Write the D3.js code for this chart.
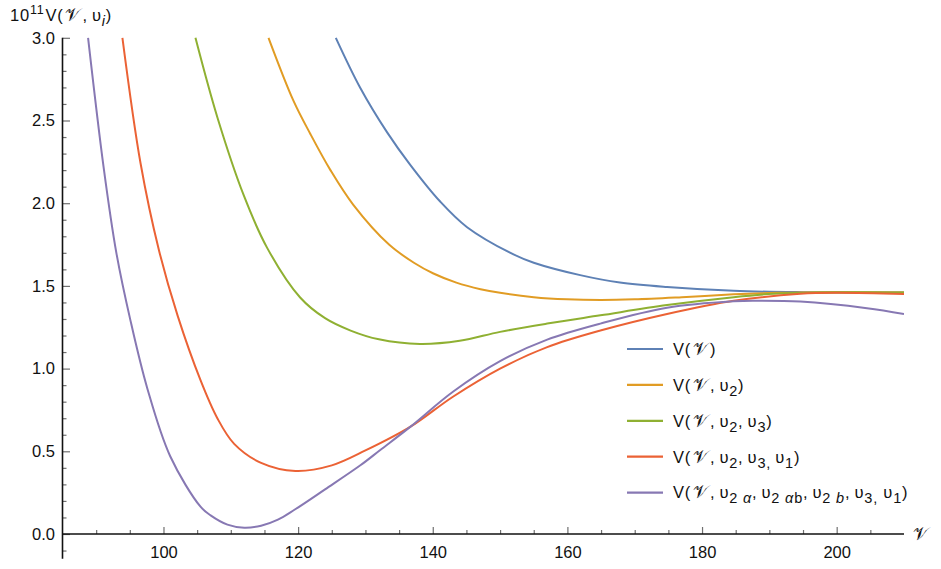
<!DOCTYPE html>
<html>
<head>
<meta charset="utf-8">
<script src="https://cdn.jsdelivr.net/npm/d3@7"></script>
<style>
  body { margin: 0; background: #fff; }
  text { font-family: "Liberation Sans", Arial, sans-serif; fill: #111; }
</style>
</head>
<body>
<div id="chart"></div>
<script>
var width = 941, height = 569;

// curves: [V, 10^11 V]
var vPlain = [[125.6,3.0],[129.2,2.70],[133.2,2.43],[136.6,2.235],[141.1,2.01],[145.1,1.855],[152,1.69],[155,1.64],[161.9,1.565],[167.8,1.52],[174.8,1.493],[184.7,1.47],[195,1.462],[210,1.46]];
var vU2 = [[115.6,3.0],[119.3,2.62],[121.8,2.42],[124.8,2.2],[128.2,1.99],[133.5,1.75],[137.2,1.64],[140.1,1.575],[143.5,1.52],[147.1,1.48],[150,1.458],[155,1.432],[159.9,1.419],[165,1.415],[170,1.419],[177,1.432],[184.7,1.449],[191,1.458],[200,1.462],[210,1.46]];
var vU2U3 = [[104.75,3.0],[108,2.52],[111.9,2.05],[115.4,1.73],[120.3,1.43],[124,1.305],[127.8,1.23],[132,1.177],[138.1,1.149],[144,1.168],[150,1.222],[157,1.272],[164.9,1.322],[174.8,1.384],[184.7,1.432],[190.7,1.452],[200,1.461],[210,1.46]];
var vU2U3U1 = [[93.9,3.0],[96.6,2.24],[99.3,1.72],[102.1,1.32],[105.5,0.93],[108,0.70],[110.5,0.545],[114.5,0.43],[119.6,0.381],[125,0.415],[130,0.505],[136.7,0.649],[143,0.83],[150,1.0],[157,1.13],[164.9,1.23],[174.8,1.33],[184.7,1.41],[194.6,1.452],[200,1.458],[210,1.451]];
var vAll = [[88.8,3.0],[91.1,2.22],[93.0,1.70],[95.1,1.29],[97.6,0.88],[101,0.47],[105.5,0.165],[107,0.113],[109.5,0.057],[112,0.038],[114.5,0.05],[117,0.087],[119.4,0.145],[124,0.27],[129.3,0.417],[132.2,0.508],[136.7,0.649],[143,0.86],[150,1.045],[157,1.175],[164.9,1.272],[174.8,1.368],[184.7,1.407],[188,1.41],[194.6,1.405],[204.5,1.365],[210,1.33]];

var xMajor = [100, 120, 140, 160, 180, 200];
var xMinor = [90, 95, 105, 110, 115, 125, 130, 135, 145, 150, 155, 165, 170, 175, 185, 190, 195, 205];
var yMajor = [0, 0.5, 1.0, 1.5, 2.0, 2.5, 3.0];
var yMinor = [-0.1, 0.1, 0.2, 0.3, 0.4, 0.6, 0.7, 0.8, 0.9, 1.1, 1.2, 1.3, 1.4, 1.6, 1.7, 1.8, 1.9, 2.1, 2.2, 2.3, 2.4, 2.6, 2.7, 2.8, 2.9];

var colors = ["#5E81B5", "#E19C24", "#8FB032", "#EB6235", "#8778B3"];

// legend labels: [text, kind] n = normal, s = subscript, si = italic subscript, v = script V
var C = ",\u2009\u03C5";
var labels = [
  [["V(", "n"], ["\u{1D4B1}", "v"], [")", "n"]],
  [["V(", "n"], ["\u{1D4B1}", "v"], [C, "n"], ["2", "s"], [")", "n"]],
  [["V(", "n"], ["\u{1D4B1}", "v"], [C, "n"], ["2", "s"], [C, "n"], ["3", "s"], [")", "n"]],
  [["V(", "n"], ["\u{1D4B1}", "v"], [C, "n"], ["2", "s"], [C, "n"], ["3,", "s"], ["\u2009\u03C5", "n"], ["1", "s"], [")", "n"]],
  [["V(", "n"], ["\u{1D4B1}", "v"], [C, "n"], ["2 ", "s"], ["\u03B1", "si"], [C, "n"], ["2 ", "s"], ["\u03B1", "si"], ["b", "s"],
   [C, "n"], ["2 ", "s"], ["b", "si"], [C, "n"], ["3,", "s"], [" \u03C5", "n"], ["1", "s"], [")", "n"]]
];
var series = [vPlain, vU2, vU2U3, vU2U3U1, vAll];

var x = d3.scaleLinear().domain([85, 210]).range([62.5, 904]);
var y = d3.scaleLinear().domain([0, 3]).range([534, 37.8]);

var svg = d3.select("#chart").append("svg")
    .attr("width", width)
    .attr("height", height);

svg.append("rect").attr("width", width).attr("height", height).attr("fill", "#fff");

svg.append("defs").append("clipPath").attr("id", "plot")
    .append("rect")
    .attr("x", x(85)).attr("y", y(3) - 1)
    .attr("width", x(210) - x(85)).attr("height", y(-0.15) - y(3) + 1);

// x axis: minor then major ticks, pointing up
var xMinorAxis = d3.axisBottom(x).tickValues(xMinor).tickSizeInner(-4).tickSizeOuter(0).tickFormat("");
var xMajorAxis = d3.axisBottom(x).tickValues(xMajor).tickSizeInner(-7).tickSizeOuter(0).tickPadding(12.3).tickFormat(d3.format("d"));
svg.append("g").attr("transform", "translate(0," + y(0) + ")").call(xMinorAxis);
svg.append("g").attr("transform", "translate(0," + y(0) + ")").call(xMajorAxis);

// y axis: ticks pointing right
var yMinorAxis = d3.axisLeft(y).tickValues(yMinor).tickSizeInner(-4).tickSizeOuter(0).tickFormat("");
var yMajorAxis = d3.axisLeft(y).tickValues(yMajor).tickSizeInner(-7.5).tickSizeOuter(0).tickPadding(7.5).tickFormat(d3.format(".1f"));
svg.append("g").attr("transform", "translate(" + x(85) + ",0)").call(yMinorAxis);
svg.append("g").attr("transform", "translate(" + x(85) + ",0)").call(yMajorAxis);

svg.selectAll(".domain").remove();
svg.selectAll(".tick line").attr("stroke", "#707070").attr("stroke-width", 1.2);
svg.selectAll(".tick text").attr("font-size", 16.5).attr("fill", "#111")
    .attr("font-family", "Liberation Sans, Arial, sans-serif");

svg.append("line")
    .attr("x1", x(85)).attr("x2", x(210))
    .attr("y1", y(0)).attr("y2", y(0))
    .attr("stroke", "#111").attr("stroke-width", 1.6);
svg.append("line")
    .attr("x1", x(85)).attr("x2", x(85))
    .attr("y1", y(3)).attr("y2", y(-0.15))
    .attr("stroke", "#111").attr("stroke-width", 1.6);

var line = d3.line()
    .x(function(d) { return x(d[0]); })
    .y(function(d) { return y(d[1]); })
    .curve(d3.curveCatmullRom.alpha(0.5));

svg.append("g").attr("clip-path", "url(#plot)")
    .selectAll("path")
    .data(series)
    .enter()
    .append("path")
    .attr("d", line)
    .attr("fill", "none")
    .attr("stroke", function(d, i) { return colors[i]; })
    .attr("stroke-width", 2);

function richText(sel, parts, size) {
    var shift = 0, afterV = false;
    parts.forEach(function(p) {
        var isSub = (p[1] == "s" || p[1] == "si");
        var target = isSub ? 5 : 0;
        var t = sel.append("tspan").text(p[0]);
        if (target != shift) t.attr("dy", target - shift);
        shift = target;
        if (afterV) t.attr("dx", 1.5);
        afterV = false;
        if (isSub) {
            t.attr("font-size", size * 0.88);
            if (p[1] == "si") t.attr("font-style", "italic");
        } else if (p[1] == "v") {
            t.attr("font-size", size * 1.1).attr("dx", 1.5);
            afterV = true;
        } else {
            t.attr("font-size", size);
        }
    });
}

// legend
var legend = svg.append("g");
labels.forEach(function(parts, i) {
    var cy = 349 + i * 35.9;
    legend.append("line")
        .attr("x1", 627).attr("x2", 663)
        .attr("y1", cy).attr("y2", cy)
        .attr("stroke", colors[i]).attr("stroke-width", 2.2);
    var t = legend.append("text").attr("x", 673).attr("y", cy + 5.8).attr("font-size", 16.5)
        .attr("letter-spacing", 0.8)
        .attr("xml:space", "preserve").style("white-space", "pre");
    richText(t, parts, 16.5);
});

// axis labels
var yLab = svg.append("text").attr("x", 10).attr("y", 21).attr("font-size", 16.5).attr("letter-spacing", 0.8);
yLab.append("tspan").text("10");
yLab.append("tspan").text("11").attr("font-size", 12.5).attr("dy", -7);
yLab.append("tspan").text("V(").attr("dy", 7).attr("dx", 1);
yLab.append("tspan").text("\u{1D4B1}").attr("font-size", 18.2).attr("dx", 1.5);
yLab.append("tspan").text(C).attr("dx", 1.5);
yLab.append("tspan").text("i").attr("font-style", "italic").attr("font-size", 14.5).attr("dy", 5);
yLab.append("tspan").text(")").attr("dy", -5);

svg.append("text").attr("x", 913).attr("y", 540).attr("font-size", 18.2).text("\u{1D4B1}");
</script>
</body>
</html>
